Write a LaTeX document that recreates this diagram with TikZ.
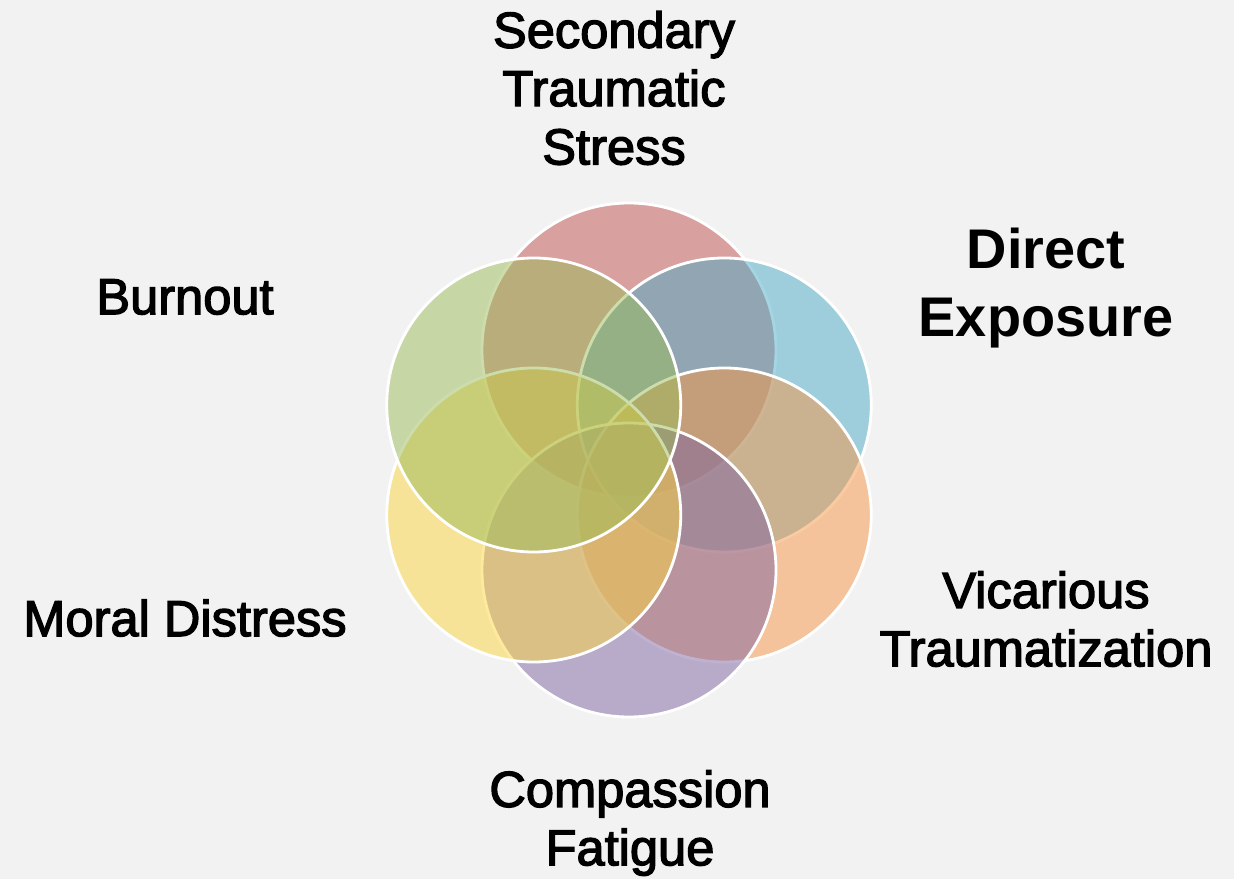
\documentclass[tikz,border=0pt]{standalone}
\usepackage{fontspec}
\setmainfont{Liberation Sans}
\newfontfamily\lblfont{Liberation Sans}[UprightFeatures={FakeBold=2.6}]
\usetikzlibrary{calc}

\definecolor{bggray}{HTML}{F2F2F2}
\definecolor{cred}{HTML}{C0504D}
\definecolor{cblue}{HTML}{4BACC6}
\definecolor{corange}{HTML}{F79646}
\definecolor{cpurple}{HTML}{8064A2}
\definecolor{cyellow}{HTML}{FCD640}
\definecolor{cgreen}{HTML}{9BBB59}

\begin{document}
\begin{tikzpicture}[x=0.2mm, y=0.2mm,
  ring/.style={circle, draw=white, line width=1.6pt, fill opacity=0.5,
    minimum size=58.8mm, inner sep=0pt},
  lbl/.style={align=center, font=\lblfont\fontsize{28.8}{33.2}\selectfont},
  biglbl/.style={align=center, font=\fontsize{31.8}{38.8}\selectfont\bfseries}]
%background
\fill[bggray] (0,0) rectangle (1234,879);

%petals
\coordinate (mid) at (629,419);
\foreach \name/\ang/\col in {stress/90/cred, expo/30/cblue, vic/-30/corange,
    comp/-90/cpurple, moral/-150/cyellow, burn/150/cgreen} {
  \node[ring, fill=\col] (\name) at ($(mid)+(\ang:110)$) {};
}

%labels
\node[lbl] (stressT) at (614,791) {Secondary\\Traumatic\\Stress};
\node[biglbl] (expoT) at (1046,591) {Direct\\Exposure};
\node[lbl] (burnT) at (185,582) {Burnout};
\node[lbl] (vicT) at (1046,260) {Vicarious\\Traumatization};
\node[lbl] (compT) at (630,56) {Compassion\\Fatigue};
\node[lbl] (moralT) at (185,261) {Moral Distress};
\end{tikzpicture}
\end{document}
